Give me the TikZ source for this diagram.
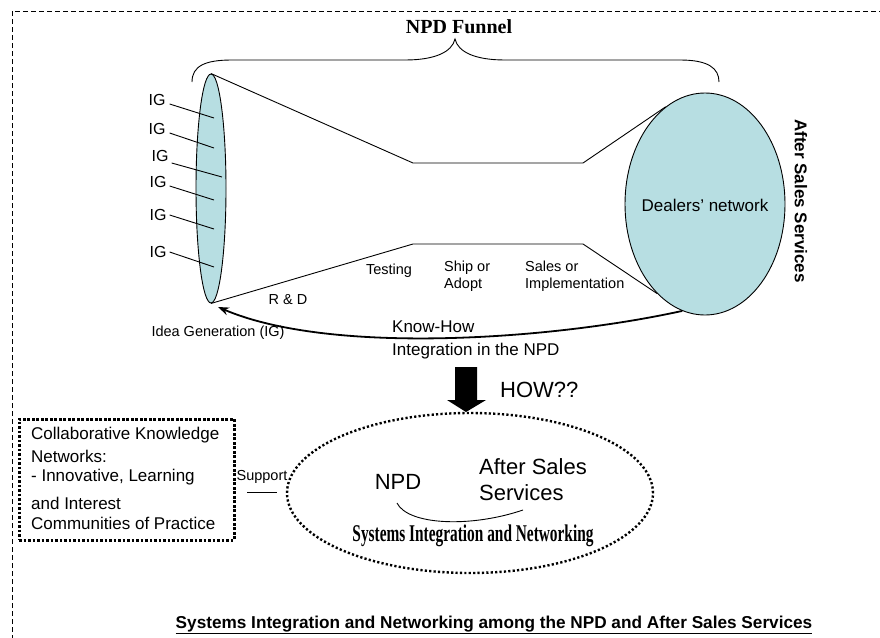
\documentclass[tikz,border=0pt]{standalone}
\usepackage{fontspec}
\setmainfont{Liberation Sans}
\newfontfamily\timesf{Liberation Serif}
\newfontfamily\wordart[FakeStretch=0.64]{Liberation Serif}
\usetikzlibrary{arrows.meta,shapes.geometric}
\definecolor{lens}{HTML}{B7DEE2}
\newcommand\fsz[2]{\fontsize{#1}{#2}\selectfont}
\tikzset{
  thinline/.style={draw=black,line width=0.9pt},
  lbl/.style={inner sep=0pt,font=\fsz{14.5}{17}},
  iglbl/.style={inner sep=0pt,font=\fsz{16}{18}},
  midlbl/.style={inner sep=0pt,font=\fsz{17}{20}},
  biglbl/.style={inner sep=0pt,font=\fsz{22}{26}},
  dotbox/.style={draw=black,line width=3pt,dash pattern=on 2.6pt off 1.9pt},
  dotell/.style={draw=black,line width=2.4pt,dash pattern=on 2.2pt off 2.2pt},
}
\begin{document}
\begin{tikzpicture}[x=1pt,y=-1pt]
\useasboundingbox (0,0) rectangle (880,637);
% frame
\draw[line width=0.8pt,dash pattern=on 5pt off 3pt] (12,640) -- (12,11) -- (884,11);

% brace and title
\node[inner sep=0pt,font=\timesf\bfseries\fsz{20}{22}] (title) at (459,27) {NPD Funnel};
\coordinate (btip) at (455,39);
\draw[thinline] (192,82) .. controls (192,66) and (205,60) .. (232,60) -- (405,60)
  .. controls (435,60) and (452,52) .. (btip)
  .. controls (458,52) and (475,60) .. (505,60) -- (680,60)
  .. controls (708,60) and (719,68) .. (719,82);

% funnel
\node[ellipse,draw=black,line width=0.9pt,fill=lens,minimum width=30pt,minimum height=229pt,inner sep=0pt] (lens) at (211,188.5) {};
\node[ellipse,draw=black,line width=0.9pt,fill=lens,minimum width=160pt,minimum height=222pt,inner sep=0pt] (dealer) at (705,204) {};
\node[inner sep=0pt,font=\fsz{17}{20}] (dealertxt) at (705,205) {Dealers' network};
\coordinate (t1) at (413,163);
\coordinate (t2) at (583,163);
\coordinate (b1) at (413,244);
\coordinate (b2) at (583,244);
\draw[thinline] (lens.north) -- (t1) -- (t2) -- (dealer.112);
\draw[thinline] (lens.south) -- (b1) -- (b2) -- (dealer.242);

% IG labels
\foreach \i/\x/\y/\ex/\ey in {1/157/100/214/118, 2/157/129/214/148, 3/160/156/222/177, 4/158/182/214/200, 5/158/215/214/229, 6/158/252/214/267}{
  \node[iglbl] (ig\i) at (\x,\y) {IG};
  \coordinate (ige\i) at (\ex,\ey);
}
\draw[thinline] ([shift={(4,4)}]ig1.east) -- (ige1);
\draw[thinline] ([shift={(4,4)}]ig2.east) -- (ige2);
\draw[thinline] ([shift={(3,7)}]ig3.east) -- (ige3);
\draw[thinline] ([shift={(3,4)}]ig4.east) -- (ige4);
\draw[thinline] ([shift={(3,0)}]ig5.east) -- (ige5);
\draw[thinline] ([shift={(3,0)}]ig6.east) -- (ige6);

% stage labels
\node[lbl] (rd) at (288,300) {R \& D};
\node[lbl] (testing) at (389,271) {Testing};
\node[lbl,anchor=west,align=left] (ship) at (444,276) {Ship or\\Adopt};
\node[lbl,anchor=west,align=left] (sales) at (525,276) {Sales or\\Implementation};

% After Sales Services vertical
\node[inner sep=0pt,rotate=-90,font=\bfseries\fsz{17}{20}] (ass) at (801,201) {After Sales Services};

% Know-How arrow
\coordinate (kh) at (218,307);
\draw[line width=1.8pt,-{Stealth[length=11pt,width=8pt]}] (dealer.258) .. controls (550,340) and (330,355) .. (kh);
\node[lbl] (idea) at (218,333) {Idea Generation (IG)};
\node[midlbl,anchor=west] (know) at (392,327) {Know-How};
\node[midlbl,anchor=west] (integ) at (392,351) {Integration in the NPD};

% block arrow
\fill[black] (455,367) -- (477,367) -- (477,400) -- (486,400) -- (466,412) -- (447,400) -- (455,400) -- cycle;
\node[biglbl,anchor=west] (how) at (500,390) {HOW??};

% dotted ellipse
\node[ellipse,dotell,minimum width=366pt,minimum height=160pt,inner sep=0pt] (sys) at (470,493) {};
\node[biglbl] (npd) at (398,482) {NPD};
\node[biglbl,anchor=west,align=left] (ass2) at (479,480) {After Sales\\Services};
\coordinate (l1) at (397,503);
\coordinate (l2) at (523,510);
\draw[thinline] (l1) .. controls (408,525) and (470,528) .. (l2);
\node[inner sep=0pt,font=\wordart\bfseries\fsz{24}{28}] (sin) at (473,536) {Systems Integration and Networking};

% dotted box
\node[dotbox,minimum width=215pt,minimum height=121pt,inner sep=0pt] (ckn) at (126.5,479.5) {};
\node[midlbl,anchor=west] (c1) at (31,435) {Collaborative Knowledge};
\node[midlbl,anchor=west] (c2) at (31,456) {Networks:};
\node[midlbl,anchor=west] (c3) at (31,477) {- Innovative, Learning};
\node[midlbl,anchor=west] (c4) at (31,503) {and Interest};
\node[midlbl,anchor=west] (c5) at (31,523) {Communities of Practice};

% support
\node[lbl] (support) at (262,477) {Support};
\coordinate (s1) at (247,492.5);
\coordinate (s2) at (277,492.5);
\draw[thinline] (s1) -- (s2);

% bottom title
\node[inner sep=0pt,font=\bfseries\fsz{17.2}{20}] (bottom) at (494,625) {\underline{Systems Integration and Networking among the NPD and After Sales Services}};
\end{tikzpicture}
\end{document}
